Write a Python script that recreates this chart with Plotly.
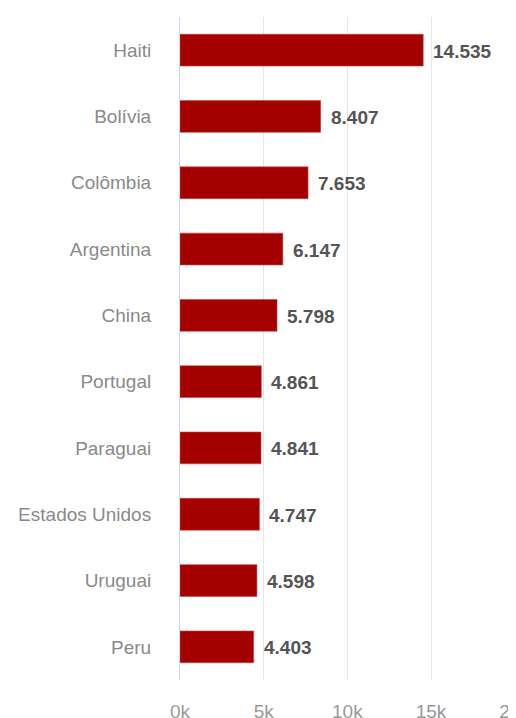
import plotly.graph_objects as go

countries = ["Haiti", "Bolívia", "Colômbia", "Argentina", "China", "Portugal",
             "Paraguai", "Estados Unidos", "Uruguai", "Peru"]
values = [14535, 8407, 7653, 6147, 5798, 4861, 4841, 4747, 4598, 4403]
tick_vals = [0, 5000, 10000, 15000, 20000]
tick_text = ["0k", "5k", "10k", "15k", "20k"]

def fmt(v):
    return f"{v:,}".replace(",", ".")

fig = go.Figure()
fig.add_trace(go.Bar(
    y=countries, x=values, orientation="h",
    marker=dict(color="#a50000", line=dict(color="#c24a4a", width=0.6)),
    width=0.48, hoverinfo="skip",
))

for c, v in zip(countries, values):
    fig.add_annotation(x=v, y=c, xref="x", yref="y", text=fmt(v),
                       showarrow=False, xanchor="left", xshift=8, yshift=-1,
                       font=dict(family="Liberation Sans, Arial", size=19,
                                 color="#555555", weight="bold"))

fig.update_layout(
    width=508, height=710,
    margin=dict(l=172, r=0, t=9, b=38),
    plot_bgcolor="white", paper_bgcolor="white",
    showlegend=False,
    font=dict(family="Liberation Sans, Arial", size=19, color="#8a8a8a"),
    xaxis=dict(range=[0, 20080], tickvals=tick_vals, ticktext=tick_text,
               showgrid=True, gridcolor="#e6e6e6", gridwidth=1,
               zeroline=False, showline=False, automargin=False,
               ticklabeloverflow="allow",
               ticks="outside", ticklen=14, tickcolor="rgba(0,0,0,0)",
               tickfont=dict(size=19, color="#999999"), fixedrange=True),
    yaxis=dict(autorange="reversed", categoryorder="array", categoryarray=countries,
               showgrid=False, zeroline=False, automargin=False,
               showline=True, linecolor="#ccd6eb", linewidth=1,
               ticks="outside", ticklen=24, tickcolor="rgba(0,0,0,0)",
               tickfont=dict(size=19, color="#8a8a8a")),
)

fig.write_html("out.html")
